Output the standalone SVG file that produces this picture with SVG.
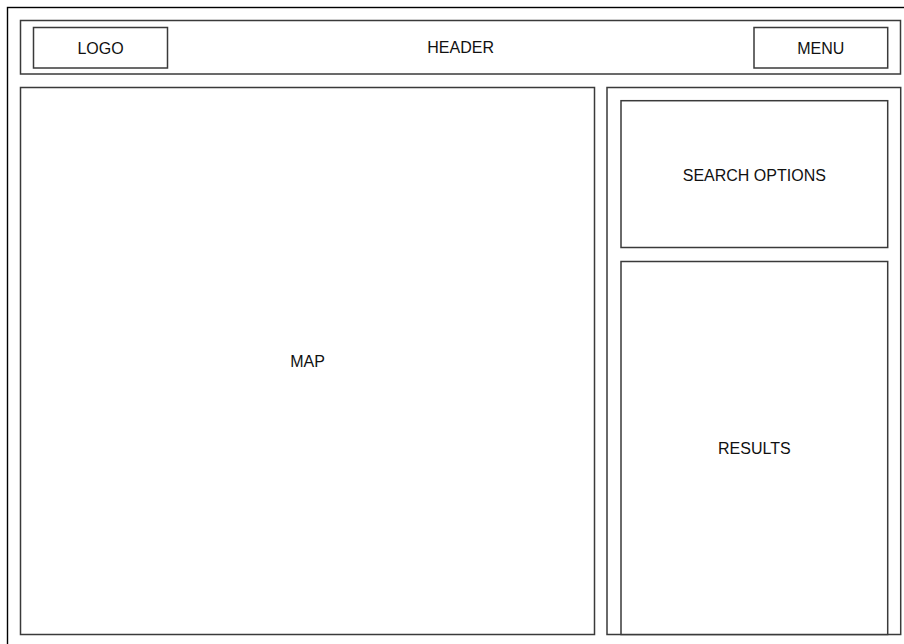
<svg xmlns="http://www.w3.org/2000/svg" width="904" height="644" viewBox="0 0 904 644">
<style>
.box{fill:#fff;stroke:#3a3a3a;stroke-width:1.5}
.lbl{font-family:"Liberation Sans",Arial,sans-serif;font-size:16px;fill:#111;text-anchor:middle}
</style>
<rect width="904" height="644" fill="#fff"/>
<g id="frame"><rect x="7.5" y="7.5" width="1000" height="1000" fill="#fff" stroke="#000" stroke-width="1.4"/></g>
<g id="header"><rect class="box" x="20.5" y="20.5" width="880" height="53.5"/><text class="lbl" x="460.6" y="53.2">HEADER</text></g>
<g id="logo"><rect class="box" x="33.5" y="27.5" width="134" height="40.5"/><text class="lbl" x="100.5" y="53.5">LOGO</text></g>
<g id="menu"><rect class="box" x="754" y="27.5" width="133.7" height="40.5"/><text class="lbl" x="820.8" y="53.5">MENU</text></g>
<g id="map"><rect class="box" x="20.5" y="87.5" width="574" height="547"/><text class="lbl" x="307.5" y="366.7">MAP</text></g>
<g id="sidebar"><rect class="box" x="607" y="87.5" width="293.7" height="547"/></g>
<g id="search"><rect class="box" x="621" y="100.7" width="266.7" height="146.8"/><text class="lbl" x="754.3" y="180.5">SEARCH OPTIONS</text></g>
<g id="results"><rect class="box" x="621" y="261.5" width="266.7" height="373"/><text class="lbl" x="754.3" y="453.7">RESULTS</text></g>
<g id="connectors"></g>
</svg>
